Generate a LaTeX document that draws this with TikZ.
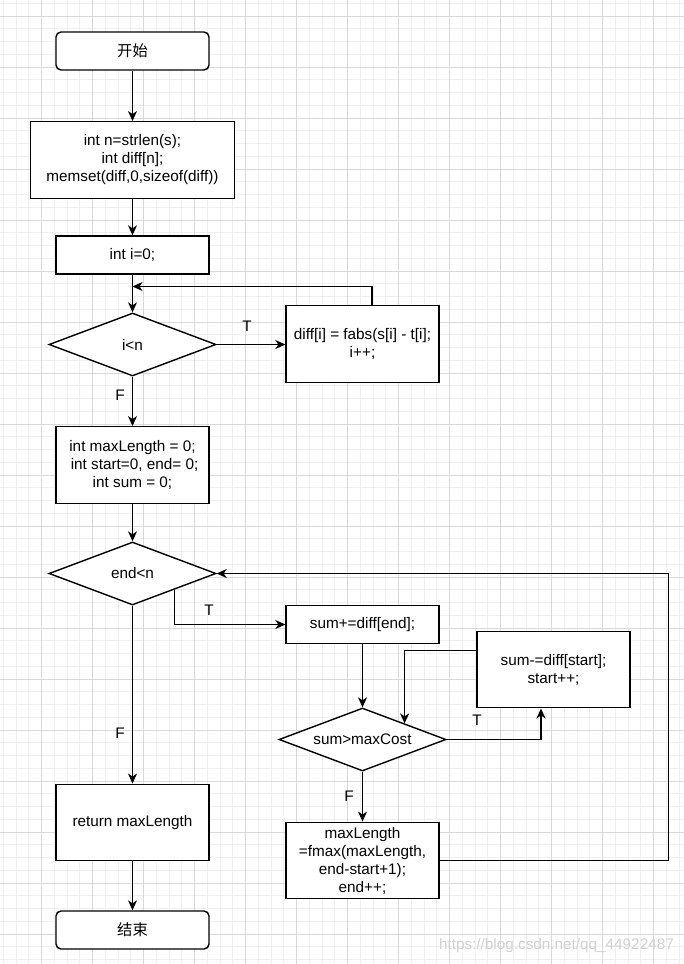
\documentclass[tikz,border=0pt]{standalone}
\usepackage{fontspec}
\setmainfont{Liberation Sans}
\newfontfamily\cjk{Noto Sans CJK SC}
\usetikzlibrary{shapes.geometric,arrows.meta,calc}
\definecolor{gridminor}{HTML}{F0F0F0}
\definecolor{gridmajor}{HTML}{D9D9D9}
\begin{document}
\begin{tikzpicture}[x=1pt,y=-1pt,
  every node/.style={font=\fontsize{15.3}{18}\selectfont, inner sep=0pt},
  procbox/.style={draw=black, line width=1.4pt, fill=white, rectangle, align=center},
  termbox/.style={procbox, rounded corners=5pt},
  decbox/.style={draw=black, line width=1.4pt, fill=white, diamond, aspect=2.65, minimum width=167pt, minimum height=63pt, align=center},
  arr/.style={line width=1.4pt, -{Stealth[length=10pt,width=9pt,inset=3pt]}},
  lbl/.style={font=\fontsize{15.3}{18}\selectfont}
]
\useasboundingbox (0,0) rectangle (684,964);
\fill[white] (0,0) rectangle (684,964);
% grid
\foreach \k in {-3,...,50} {
  \draw[gridminor, line width=1pt] ({41.5+12.75*\k},0) -- ({41.5+12.75*\k},964);
}
\foreach \k in {-1,...,75} {
  \draw[gridminor, line width=1pt] (0,{16+12.75*\k}) -- (684,{16+12.75*\k});
}
\foreach \k in {0,...,12} {
  \draw[gridmajor, line width=1pt] ({41.5+51*\k},0) -- ({41.5+51*\k},964);
}
\foreach \k in {0,...,18} {
  \draw[gridmajor, line width=1pt] (0,{16+51*\k}) -- (684,{16+51*\k});
}

% nodes
\node[termbox, minimum width=153pt, minimum height=38pt] (start) at (132.5,51) {\cjk 开始};
\node[procbox, minimum width=204pt, minimum height=76.5pt] (b1) at (132.5,160) {int n=strlen(s);\\int diff[n];\\memset(diff,0,sizeof(diff))};
\node[procbox, minimum width=153pt, minimum height=38pt] (b2) at (132.5,255) {int i=0;};
\node[decbox] (d1) at (132.5,344.5) {i<n};
\node[procbox, minimum width=153pt, minimum height=76.5pt] (b3) at (362.5,344) {diff[i] = fabs(s[i] - t[i];\\i++;};
\node[procbox, minimum width=153pt, minimum height=76.5pt] (b4) at (132.5,465) {int maxLength = 0;\\\ int start=0, end= 0;\\int sum = 0;};
\node[decbox] (d2) at (132.5,573.5) {end<n};
\node[procbox, minimum width=153pt, minimum height=38pt] (b5) at (362.5,624.5) {sum+=diff[end];};
\node[procbox, minimum width=153pt, minimum height=76.5pt] (b6) at (553.5,669.5) {sum-=diff[start];\\start++;};
\node[decbox] (d3) at (362.5,739.5) {sum>maxCost};
\node[procbox, minimum width=153pt, minimum height=76.5pt] (b7) at (362.5,860.5) {maxLength\\=fmax(maxLength,\\end-start+1);\\end++;};
\node[procbox, minimum width=153pt, minimum height=76.5pt] (b8) at (132.5,822.5) {return maxLength};
\node[termbox, minimum width=153pt, minimum height=38pt] (end) at (132.5,930) {\cjk 结束};

\coordinate (m1) at (132.5,286.5);

% connectors
\draw[arr] (start) -- (b1);
\draw[arr] (b1) -- (b2);
\draw[arr] (b2) -- (d1);
\draw[arr] ([xshift=9.5pt]b3.north) |- (m1);
\draw[arr] (d1.east) -- (d1.east -| b3.west);
\draw[arr] (d1) -- (b4);
\draw[arr] (b4) -- (d2);
\draw[arr] (d2.south east) |- (b5.west);
\draw[arr] (b5) -- (d3);
\draw[arr] ([yshift=19pt]b6.west) -| (d3.north east);
\draw[arr] (d3.east) -| ([xshift=-12.5pt]b6.south);
\draw[arr] (d3) -- (b7);
\draw[arr] (b7.east) -- ++(229,0) |- (d2.east);
\draw[arr] (d2) -- (b8);
\draw[arr] (b8) -- (end);

% labels
\node[lbl] (t1) at (247,326) {T};
\node[lbl] (f1) at (120,395) {F};
\node[lbl] (t2) at (209,610) {T};
\node[lbl] (f2) at (120,733) {F};
\node[lbl] (t3) at (477,720) {T};
\node[lbl] (f3) at (349,796) {F};

% watermark
\node[anchor=east, text=black!18] (wm) at (674,946) {https://blog.csdn.net/qq\_44922487};
\end{tikzpicture}
\end{document}
